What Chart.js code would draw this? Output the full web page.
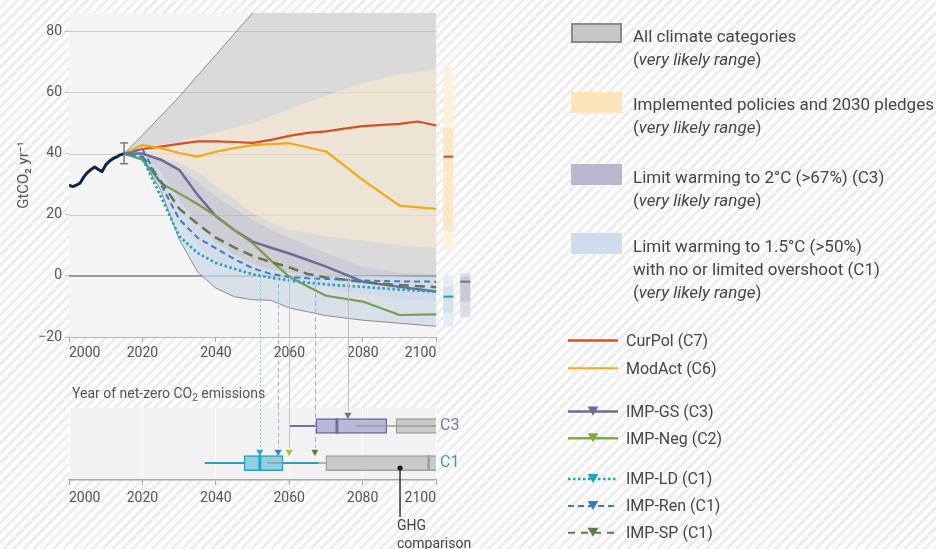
<!DOCTYPE html>
<html lang="en">
<head>
<meta charset="utf-8">
<title>Global CO2 emissions pathways</title>
<script src="https://cdn.jsdelivr.net/npm/chart.js@4.4.1/dist/chart.umd.min.js"></script>
<style>
  html, body { margin: 0; padding: 0; }
  body {
    width: 936px; height: 549px; overflow: hidden; position: relative;
    font-family: Roboto, "Liberation Sans", Arial, sans-serif; color: #464646;
    background-color: #fbfbfb;
    background-image: repeating-linear-gradient(135deg, #fcfcfc 0px, #fcfcfc 4.5px, #ededed 4.5px, #ededed 7px);
  }
  canvas { position: absolute; left: 0; }
  #mainChart { top: 0; }
  #nzChart { top: 405px; }
  .lbl { position: absolute; white-space: nowrap; }
  .key { font-size: 17px; line-height: 23px; left: 633px; }
  .line-key { font-size: 16px; line-height: 20px; left: 626px; }
  .sub { font-size: 10px; position: relative; top: 3px; }
  svg { position: absolute; left: 0; top: 0; }
</style>
</head>
<body>
<canvas id="mainChart" width="480" height="405"></canvas>
<canvas id="nzChart" width="480" height="144"></canvas>

<div class="lbl" style="left:72px; top:384px; font-size:14px; line-height:18px; color:#555;">Year of net-zero CO<span class="sub">2</span> emissions</div>
<div class="lbl" style="left:397px; top:516px; font-size:14px; line-height:18px; color:#444;">GHG<br>comparison</div>

<svg width="936" height="549" viewBox="0 0 936 549">
  <!-- range swatches -->
  <rect x="572" y="24" width="49" height="18" fill="#c8c8c8" stroke="#8a8a8a" stroke-width="2"/>
  <rect x="571" y="92" width="51" height="21" fill="#fde3b9"/>
  <rect x="571" y="164" width="51" height="21" fill="#b9b7cd"/>
  <rect x="571" y="233" width="51" height="21" fill="#cfdced"/>
  <!-- pathway line samples -->
  <line x1="568" y1="340.5" x2="618" y2="340.5" stroke="#d8501f" stroke-width="2.5"/>
  <line x1="568" y1="368.3" x2="618" y2="368.3" stroke="#f2a818" stroke-width="2"/>
  <line x1="568" y1="411.5" x2="618" y2="411.5" stroke="#6e6b9a" stroke-width="2.5"/>
  <polygon points="587.5,406.5 598.5,406.5 593,415.5" fill="#6e6b9a"/>
  <line x1="568" y1="438.3" x2="618" y2="438.3" stroke="#7fae3a" stroke-width="2.5"/>
  <polygon points="587.5,433.3 598.5,433.3 593,442.3" fill="#7fae3a"/>
  <line x1="568" y1="479" x2="618" y2="479" stroke="#1ea3c3" stroke-width="2.5" stroke-dasharray="2.5 2.5"/>
  <polygon points="587.5,474 598.5,474 593,483" fill="#1ea3c3"/>
  <line x1="568" y1="506" x2="618" y2="506" stroke="#3d7cc5" stroke-width="2" stroke-dasharray="6 4"/>
  <polygon points="587.5,501 598.5,501 593,510" fill="#3d7cc5"/>
  <line x1="568" y1="532.8" x2="618" y2="532.8" stroke="#5d7a4c" stroke-width="2" stroke-dasharray="7 6"/>
  <polygon points="587.5,527.8 598.5,527.8 593,536.8" fill="#5d7a4c"/>
</svg>

<div class="lbl key" style="top:25px;">All climate categories<br>(<i>very likely range</i>)</div>
<div class="lbl key" style="top:93px;">Implemented policies and 2030 pledges<br>(<i>very likely range</i>)</div>
<div class="lbl key" style="top:166px;">Limit warming to 2°C (&gt;67%) (C3)<br>(<i>very likely range</i>)</div>
<div class="lbl key" style="top:235px;">Limit warming to 1.5°C (&gt;50%)<br>with no or limited overshoot (C1)<br>(<i>very likely range</i>)</div>

<div class="lbl line-key" style="top:331px;">CurPol (C7)</div>
<div class="lbl line-key" style="top:358.5px;">ModAct (C6)</div>
<div class="lbl line-key" style="top:401.5px;">IMP-GS (C3)</div>
<div class="lbl line-key" style="top:428.5px;">IMP-Neg (C2)</div>
<div class="lbl line-key" style="top:469px;">IMP-LD (C1)</div>
<div class="lbl line-key" style="top:496px;">IMP-Ren (C1)</div>
<div class="lbl line-key" style="top:522.5px;">IMP-SP (C1)</div>

<script>
// ---------- data (GtCO2 per year) ----------
const histYears = [2000,2001,2002,2003,2004,2005,2006,2007,2008,2009,2010,2011,2012,2013,2014,2015];
const histVals  = [29.7,29.2,29.7,30.3,32.3,33.8,34.8,35.6,34.8,34.1,36.3,37.5,38.4,38.9,39.6,40.0];
const histRange = [36.7, 43.5];            // uncertainty of the latest historical year
const histRangeYear = 2015;

const curPolYears = [2015,2020,2025,2030,2035,2040,2045,2050,2055,2060,2065,2070,2075,2080,2090,2095,2100];
const curPolVals  = [40,41.5,42.3,43.2,44,44,43.8,43.5,44.5,45.8,46.8,47.3,48.2,49,49.7,50.5,49.2];

const modActYears = [2015,2020,2025,2030,2035,2040,2045,2050,2060,2070,2080,2090,2100];
const modActVals  = [40,42.8,41.8,40.2,39,40.6,41.8,42.8,43.4,40.7,31.4,23,21.9];

const impYears = [2015,2020,2025,2030,2035,2040,2045,2050,2055,2060,2065,2070,2080,2090,2100];
const impGS    = [40,40,38,34.7,26.5,19.5,15,11.2,9.2,7.3,5.2,3,-1.9,-3.6,-5.1];
const impNeg   = [40,38,30.4,27,23.5,19.6,15,10.7,5,-0.3,-3.5,-6.5,-8.4,-12.8,-12.6];
const impSP    = [40,39,31,22,17,12.5,9.3,6.5,4.5,2.8,0.6,-0.5,-2,-3,-3.7];
const impRen   = [40,41.5,30,18.5,12.5,9,5.5,2.5,0.6,-0.4,-0.8,-1,-1.5,-1.8,-1.9];
const impLD    = [40,38.5,26,13,7.5,4.2,2.3,0.5,-0.6,-1.5,-2.2,-2.8,-3.6,-4.5,-5.2];

const bandYears = [2015,2020,2025,2030,2035,2040,2045,2050,2055,2060,2070,2080,2090,2100];
const allHi     = [40,46,52.3,58.6,65.5,72.3,79.2,86,93,100,113,125,135,145];
const allLo     = [40,38,28,12,1.3,-4,-6.8,-7.8,-8,-10.5,-13,-14.5,-15.5,-16.5];
const c3Hi      = [40,40.5,38.5,35,31,26,22,18.3,15,12.4,7.5,3,1,0.5];
const c3Lo      = [40,38,30,18,10,5,2,0.5,-1,-2,-4,-6,-7.5,-8.5];
const c1Hi      = [40,40,34,25,17,11,7,4,2,1,0.3,0,-0.2,-0.5];
const c1Lo      = [40,38,28,12,1.3,-4,-6.8,-7.8,-8,-10.5,-13,-14.5,-15.5,-16.5];

const polYears  = [2015,2020,2025,2030,2035,2040,2045,2050,2055,2060,2070,2080,2090,2100];
const polHi     = [40,42,43,44,45.5,47,48.5,50,52.3,54.5,59,63,66,67.5];
const polLo     = [40,40,38.5,37,34,29.5,25,20.5,17.5,15,13,11.5,10,9];

// 2100 ranges: [low, high] outer, [low, high] inner, median
const pol2100 = { outer: [8.5, 68], inner: [14.4, 48.5], median: 39 };
const c1_2100 = { outer: [-16.7, 0], inner: [-12, -3.6], median: -6.8 };
const c3_2100 = { outer: [-13.5, 0.9], inner: [-8.4, -0.25], median: -1.9 };

// net-zero CO2 year distributions: [min, q1, median, q3, max]
const nzC3  = [2060, 2067.3, 2073, 2086.6, 2086.6];
const nzC1  = [2037, 2047.7, 2052, 2058.3, 2068];
// GHG comparison (net-zero GHG year): [whisker low, box low, median, box high, whisker high]
const ghgC3 = [2078.2, 2089.1, 2106, 2112, 2112];
const ghgC1 = [2054, 2070, 2098, 2112, 2112];
const ghgMarkerYear = 2090.2;

// net-zero year of each illustrative pathway
const nzPathways = ['IMP-LD','IMP-Ren','IMP-Neg','IMP-SP','IMP-GS'];
const nzYears    = [2052, 2057, 2060, 2067, 2076];
const nzRows     = ['C1','C1','C1','C1','C3'];

const xTicks = [2000,2020,2040,2060,2080,2100];
const yTicks = [-20,0,20,40,60,80];

// ---------- styling ----------
const COL = {
  curPol: '#d8501f', modAct: '#f2a818', gs: '#6e6b9a', neg: '#7d9c4e',
  sp: '#5d7a4c', ren: '#3d7cc5', ld: '#1ea3c3', hist: '#0e2748'
};
const pathwayStyle = {
  'IMP-LD':  { tri: '#2aa3c3', drop: '#86c8da', dash: [2, 2] },
  'IMP-Ren': { tri: '#3d7cc5', drop: '#9db7d6', dash: [4, 3] },
  'IMP-Neg': { tri: '#a8bd3a', drop: '#c6c6c6', dash: [] },
  'IMP-SP':  { tri: '#5d7a4c', drop: '#b0b0b0', dash: [5, 3] },
  'IMP-GS':  { tri: '#6e6b9a', drop: '#bdbdbd', dash: [] }
};
const rowPos = { C1: 0.47, C3: 1.5 };
const triLift = 0.31;

Chart.defaults.font.family = 'Roboto, "Liberation Sans", Arial, sans-serif';
Chart.defaults.color = '#555';

const pts = (xs, ys) => xs.map((x, i) => ({ x, y: ys[i] }));
const seg = (x0, y0, x1, y1) => [{ x: x0, y: y0 }, { x: x1, y: y1 }];
const fmtNum = v => (v < 0 ? '\u2212' + Math.abs(v) : String(v));
// keep the plot area fixed: axes report no extra edge padding
const noEdgePad = s => { s.paddingTop = 0; s.paddingBottom = 0; s.paddingLeft = 0; s.paddingRight = 0; };

// plot backdrop and horizontal rules limited to the 2000-2100 span
const plotBackdrop = {
  id: 'plotBackdrop',
  beforeDraw(chart, args, opts) {
    const { ctx, chartArea, scales } = chart;
    const xs = scales.x, ys = scales.y;
    const left = xs.getPixelForValue(opts.from), right = xs.getPixelForValue(opts.to);
    ctx.save();
    ctx.fillStyle = opts.fill;
    ctx.fillRect(left, chartArea.top, right - left, chartArea.bottom - chartArea.top);
    (opts.rules || []).forEach(r => {
      const py = Math.round(ys.getPixelForValue(r.value)) + (r.width % 2 ? 0.5 : 0);
      ctx.strokeStyle = r.color;
      ctx.lineWidth = r.width;
      ctx.beginPath(); ctx.moveTo(left, py); ctx.lineTo(right, py); ctx.stroke();
    });
    ctx.restore();
  }
};

// vertical guides from the zero crossing down to the net-zero panel
const netZeroDrops = {
  id: 'netZeroDrops',
  afterDatasetsDraw(chart, args, opts) {
    const { ctx, scales: { x, y } } = chart;
    ctx.save();
    nzYears.forEach((yr, i) => {
      const st = pathwayStyle[nzPathways[i]];
      const px = Math.round(x.getPixelForValue(yr)) + 0.5;
      const top = opts.panel ? 0 : y.getPixelForValue(0) + 1;
      const bottom = opts.panel ? y.getPixelForValue(rowPos[nzRows[i]] + triLift) - 4 : chart.height;
      ctx.strokeStyle = st.drop;
      ctx.lineWidth = 1;
      ctx.setLineDash(st.dash);
      ctx.beginPath(); ctx.moveTo(px, top); ctx.lineTo(px, bottom); ctx.stroke();
    });
    ctx.restore();
  }
};

// leader line under the GHG comparison marker
const ghgLeader = {
  id: 'ghgLeader',
  afterDatasetsDraw(chart, args, opts) {
    const meta = chart.getDatasetMeta(opts.datasetIndex);
    const pt = meta.data[0];
    if (!pt) return;
    const { ctx } = chart;
    ctx.save();
    ctx.strokeStyle = '#333';
    ctx.lineWidth = 1.5;
    ctx.beginPath(); ctx.moveTo(pt.x, pt.y); ctx.lineTo(pt.x, pt.y + opts.length); ctx.stroke();
    ctx.restore();
  }
};

const bandLine = (data, extra) => Object.assign({
  type: 'line', data, pointRadius: 0, borderWidth: 0, borderColor: 'transparent', fill: false
}, extra);

const rangeBar = (year, lohi, color, order) => ({
  type: 'line', data: seg(year, lohi[0], year, lohi[1]), borderColor: color, borderWidth: 10,
  borderCapStyle: 'butt', pointRadius: 0, fill: false, order
});
const medianTick = (year, value, color) => ({
  type: 'line', data: seg(year - 1.36, value, year + 1.36, value), borderColor: color, borderWidth: 2,
  borderCapStyle: 'butt', pointRadius: 0, fill: false, order: 19
});

const pathLine = (xs, ys, color, width, dash, order) => ({
  type: 'line', data: pts(xs, ys), borderColor: color, borderWidth: width, borderDash: dash || [],
  pointRadius: 0, fill: false, order, borderJoinStyle: 'round'
});

const polBarYear = 2103.3, c3BarYear = 2107.9;

new Chart(document.getElementById('mainChart'), {
  type: 'line',
  data: {
    datasets: [
      bandLine(pts(bandYears, allHi), { fill: '+1', backgroundColor: 'rgba(165,165,165,0.32)', borderColor: '#8e8e8e', borderWidth: 1, order: 30 }),
      bandLine(pts(bandYears, allLo), { borderColor: '#8e8e8e', borderWidth: 1, order: 22 }),
      bandLine(pts(polYears, polHi), { fill: '+1', backgroundColor: 'rgba(253,237,209,0.55)', order: 28 }),
      bandLine(pts(polYears, polLo), { order: 27 }),
      bandLine(pts(bandYears, c3Hi), { fill: '+1', backgroundColor: 'rgba(182,178,206,0.33)', order: 26 }),
      bandLine(pts(bandYears, c3Lo), { order: 25 }),
      bandLine(pts(bandYears, c1Hi), { fill: '+1', backgroundColor: 'rgba(215,232,248,0.55)', order: 24 }),
      bandLine(pts(bandYears, c1Lo), { order: 23 }),

      rangeBar(polBarYear, pol2100.outer, '#fdf1de', 21),
      rangeBar(polBarYear, pol2100.inner, '#fbe7c9', 20),
      medianTick(polBarYear, pol2100.median, '#c0502a'),
      rangeBar(polBarYear, c1_2100.outer, '#e3eef4', 21),
      rangeBar(polBarYear, c1_2100.inner, '#d3e3ec', 20),
      medianTick(polBarYear, c1_2100.median, '#1e9fbf'),
      rangeBar(c3BarYear, c3_2100.outer, '#dddbe5', 21),
      rangeBar(c3BarYear, c3_2100.inner, '#cbc8d8', 20),
      medianTick(c3BarYear, c3_2100.median, '#6e6b9a'),

      pathLine(curPolYears, curPolVals, COL.curPol, 2.2, null, 8),
      pathLine(modActYears, modActVals, COL.modAct, 2.2, null, 7),
      pathLine(impYears, impGS, COL.gs, 2.5, null, 6),
      pathLine(impYears, impNeg, COL.neg, 2.2, null, 5),
      pathLine(impYears, impSP, COL.sp, 2.5, [10, 6], 4),
      pathLine(impYears, impRen, COL.ren, 2, [6, 4], 3),
      pathLine(impYears, impLD, COL.ld, 2.6, [2.5, 2.5], 2),
      pathLine(histYears, histVals, COL.hist, 3, null, 1),
      {
        type: 'line', data: seg(histRangeYear, histRange[0], histRangeYear, histRange[1]),
        borderColor: '#7a7a7a', borderWidth: 1.5, pointStyle: 'line', pointRadius: 4,
        pointBorderColor: '#7a7a7a', pointBorderWidth: 1.5, fill: false, order: 0
      }
    ]
  },
  options: {
    responsive: false,
    animation: false,
    events: [],
    layout: { padding: { top: 13, right: 7, left: 0, bottom: 0 }, autoPadding: false },
    elements: { line: { tension: 0 }, point: { radius: 0 } },
    plugins: {
      legend: { display: false },
      tooltip: { enabled: false },
      plotBackdrop: {
        from: 2000, to: 2100, fill: '#f4f4f4',
        rules: yTicks.map(v => ({
          value: v,
          color: v === 0 ? '#9c9c9c' : (v === yTicks[0] ? '#b4b4b4' : '#cdcdcd'),
          width: v === 0 ? 2 : 1
        }))
      },
      netZeroDrops: { panel: false }
    },
    scales: {
      x: {
        type: 'linear', min: 2000, max: 2110, offset: false,
        afterBuildTicks: s => { s.ticks = xTicks.map(v => ({ value: v })); },
        afterFit: s => { s.height = 68; noEdgePad(s); },
        grid: { drawOnChartArea: false, drawTicks: true, tickLength: 5, tickColor: '#a8a8a8', offset: false },
        border: { display: false },
        ticks: { align: 'inner', autoSkip: false, maxRotation: 0, padding: 3, font: { size: 14 }, color: '#555', callback: v => String(v) }
      },
      y: {
        type: 'linear', min: -20, max: 86,
        afterBuildTicks: s => { s.ticks = yTicks.map(v => ({ value: v })); },
        afterFit: s => { s.width = 69; noEdgePad(s); },
        grid: { drawOnChartArea: false, tickLength: 4, tickColor: '#bdbdbd' },
        border: { display: false },
        ticks: { padding: 3, font: { size: 14 }, color: '#555', callback: v => fmtNum(v) },
        title: { display: true, text: 'GtCO\u2082 yr\u207B\u00B9', font: { size: 15 }, color: '#555', padding: { top: 15, bottom: 0 } }
      }
    }
  },
  plugins: [plotBackdrop, netZeroDrops]
});

// ---------- net-zero year panel ----------
const boxBar = (rows, spans, fills, borders, order, bw) => ({
  type: 'bar', indexAxis: 'y', grouped: false, clip: 0,
  data: rows.map((r, i) => ({ y: rowPos[r], x: spans[i] })),
  backgroundColor: fills, borderColor: borders, borderWidth: bw, borderSkipped: false,
  barThickness: 15, order
});
const whisker = (row, x0, x1, color, width, order) => ({
  type: 'line', data: seg(x0, rowPos[row], x1, rowPos[row]), borderColor: color, borderWidth: width,
  pointRadius: 0, fill: false, order, clip: 0
});

const C3C = '#6e6ea0', C1C = '#2a9fbf', GC = '#a0a0a0';
const nzDatasets = [
  boxBar(['C3', 'C1'], [[ghgC3[1], ghgC3[3]], [ghgC1[1], ghgC1[3]]], '#cacaca', GC, 7, 1.5),
  boxBar(['C3', 'C1'], [[nzC3[1], nzC3[3]], [nzC1[1], nzC1[3]]], ['#b8b8da', '#8ed0e1'], [C3C, C1C], 6, 1.5),
  boxBar(['C3', 'C1', 'C1'], [[nzC3[2] - 0.3, nzC3[2] + 0.3], [nzC1[2] - 0.3, nzC1[2] + 0.3], [ghgC1[2] - 0.3, ghgC1[2] + 0.3]],
         [C3C, C1C, GC], [C3C, C1C, GC], 5, 0),
  whisker('C3', ghgC3[0], ghgC3[1], '#9a9a9a', 1.5, 4),
  whisker('C3', ghgC3[1], 2100, '#9a9a9a', 1.5, 4),
  whisker('C1', ghgC1[0], ghgC1[1], '#9a9a9a', 1.5, 4),
  whisker('C3', nzC3[0], nzC3[1], C3C, 2, 3),
  whisker('C1', nzC1[0], nzC1[1], C1C, 2, 3),
  whisker('C1', nzC1[3], nzC1[4], C1C, 2, 3),
  {
    type: 'line', showLine: false, order: 2,
    data: nzYears.map((yr, i) => ({ x: yr, y: rowPos[nzRows[i]] + triLift })),
    pointStyle: 'triangle', pointRotation: 180, pointRadius: 3.6,
    pointBackgroundColor: nzPathways.map(p => pathwayStyle[p].tri),
    pointBorderColor: nzPathways.map(p => pathwayStyle[p].tri), pointBorderWidth: 0.5
  },
  {
    type: 'line', showLine: false, order: 1,
    data: [{ x: ghgMarkerYear, y: rowPos.C1 - 0.14 }],
    pointRadius: 2.6, pointBackgroundColor: '#1a1a1a', pointBorderColor: '#1a1a1a', pointBorderWidth: 0
  }
];

new Chart(document.getElementById('nzChart'), {
  type: 'bar',
  data: { datasets: nzDatasets },
  options: {
    responsive: false,
    animation: false,
    events: [],
    layout: { padding: { top: 3, right: 0, left: 69, bottom: 0 }, autoPadding: false },
    plugins: {
      legend: { display: false },
      tooltip: { enabled: false },
      plotBackdrop: { from: 2000, to: 2100, fill: '#f2f2f2', rules: [] },
      netZeroDrops: { panel: true },
      ghgLeader: { datasetIndex: nzDatasets.length - 1, length: 49 }
    },
    scales: {
      x: {
        type: 'linear', min: 2000, max: 2100, offset: false,
        afterBuildTicks: s => { s.ticks = xTicks.map(v => ({ value: v })); },
        afterFit: s => { s.height = 69; noEdgePad(s); },
        grid: { color: 'rgba(255,255,255,0.95)', lineWidth: 1, tickLength: 5, tickColor: '#a8a8a8', offset: false },
        border: { display: true, color: '#a8a8a8', width: 1.5 },
        ticks: { align: 'inner', autoSkip: false, maxRotation: 0, padding: 5, font: { size: 14 }, color: '#555', callback: v => String(v) }
      },
      y: {
        type: 'linear', position: 'right', min: 0, max: 2, offset: false,
        afterBuildTicks: s => { s.ticks = Object.keys(rowPos).map(k => ({ value: rowPos[k] })); },
        afterFit: s => { s.width = 44; noEdgePad(s); },
        grid: { display: false, drawTicks: false, offset: false },
        border: { display: false },
        ticks: {
          padding: 4, font: { size: 16 },
          color: ctx => (ctx.tick && ctx.tick.value > 1 ? '#7a77a8' : '#3b9cb6'),
          callback: v => Object.keys(rowPos).find(k => Math.abs(rowPos[k] - v) < 1e-6) || ''
        }
      }
    }
  },
  plugins: [plotBackdrop, netZeroDrops, ghgLeader]
});
</script>
</body>
</html>
